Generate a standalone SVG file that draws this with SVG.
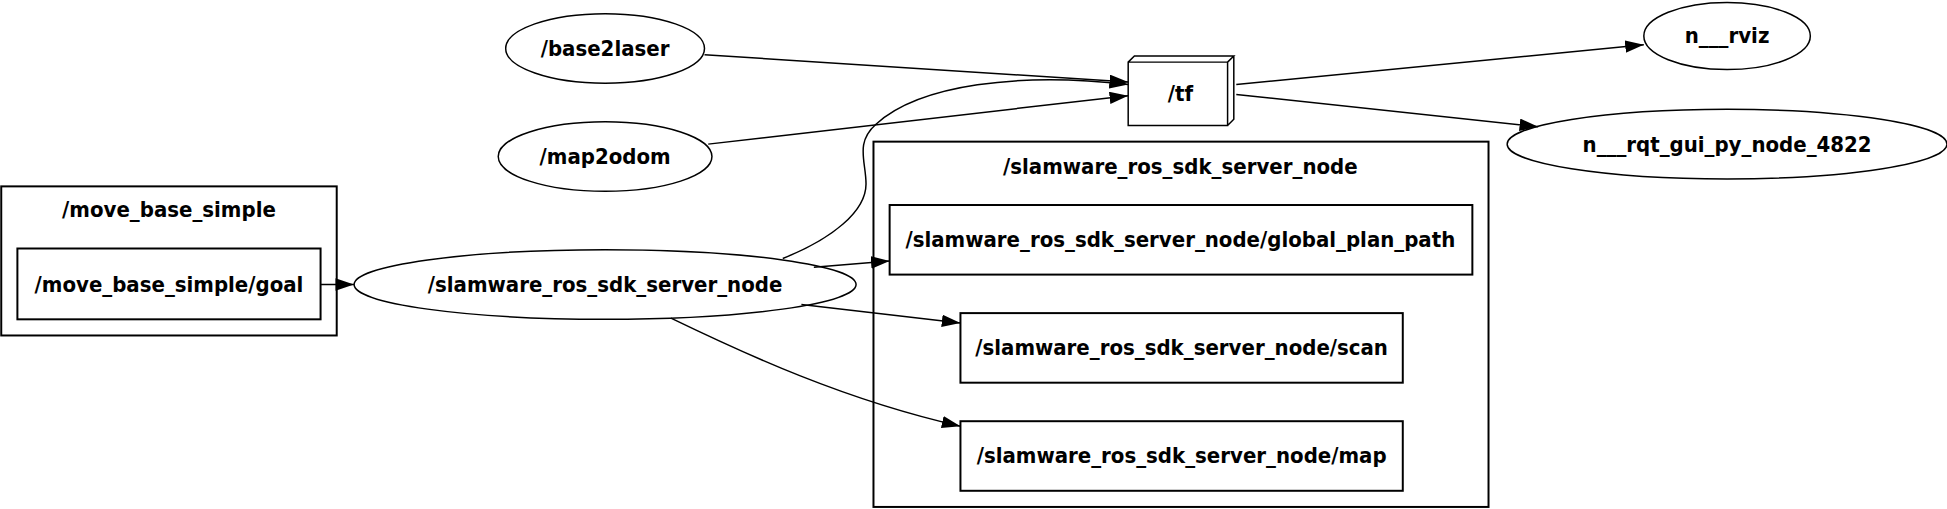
<svg xmlns="http://www.w3.org/2000/svg" width="1947" height="509" viewBox="0 0 1947 509">
<style>
text{font-family:"DejaVu Sans Condensed","DejaVu Sans",sans-serif;font-weight:bold;font-size:17.7px;text-anchor:middle;fill:#000}
.n{fill:none;stroke:#000;stroke-width:1.2}
.c{fill:none;stroke:#000;stroke-width:1.6}
.e{fill:none;stroke:#000;stroke-width:1.2}
</style>
<defs><marker id="a" markerWidth="15" markerHeight="10" refX="15" refY="5" orient="auto" markerUnits="userSpaceOnUse"><path d="M0,0L15,5L0,10z" fill="#000"/></marker></defs>
<rect width="1947" height="509" fill="#fff"/>
<g transform="scale(1.2425)">
<g id="edges">
<path class="e" marker-end="url(#a)" d="M258,229L285,229"/>
<path class="e" marker-end="url(#a)" d="M567,44L908,66"/>
<path class="e" marker-end="url(#a)" d="M570,116L908,77"/>
<path class="e" marker-end="url(#a)" d="M630,208C670,192 697,170 697,148C697,130 688,115 705,100C740,68 820,58 908,68"/>
<path class="e" marker-end="url(#a)" d="M655,215L716,210"/>
<path class="e" marker-end="url(#a)" d="M645,245L773,260"/>
<path class="e" marker-end="url(#a)" d="M540,256C600,285 680,322 773,343"/>
<path class="e" marker-end="url(#a)" d="M995,68L1323,36"/>
<path class="e" marker-end="url(#a)" d="M995,76L1238,102"/>
</g>
<g id="cluster_move_base_simple"><rect class="c" x="1" y="150" width="270" height="120"/><text x="136" y="175">/move_base_simple</text></g>
<g id="goal"><rect class="c" x="14" y="200" width="244" height="57"/><text x="136" y="235">/move_base_simple/goal</text></g>
<g id="cluster_slamware"><rect class="c" x="703" y="114" width="495" height="294"/><text x="950" y="140">/slamware_ros_sdk_server_node</text></g>
<g id="global_plan_path"><rect class="c" x="716" y="165" width="469" height="56"/><text x="950" y="199">/slamware_ros_sdk_server_node/global_plan_path</text></g>
<g id="scan"><rect class="c" x="773" y="252" width="356" height="56"/><text x="951" y="286">/slamware_ros_sdk_server_node/scan</text></g>
<g id="map"><rect class="c" x="773" y="339" width="356" height="56"/><text x="951" y="373">/slamware_ros_sdk_server_node/map</text></g>
<g id="slamware_node"><ellipse class="n" cx="487" cy="229" rx="202" ry="28"/><text x="487" y="235">/slamware_ros_sdk_server_node</text></g>
<g id="base2laser"><ellipse class="n" cx="487" cy="39" rx="80" ry="28"/><text x="487" y="45">/base2laser</text></g>
<g id="map2odom"><ellipse class="n" cx="487" cy="126" rx="86" ry="28"/><text x="487" y="132">/map2odom</text></g>
<g id="tf"><path class="n" d="M908,50H988V101H908ZM908,50L913,45H993L988,50M993,45V96L988,101"/><text x="950" y="81">/tf</text></g>
<g id="rviz"><ellipse class="n" cx="1390" cy="29" rx="67" ry="27"/><text x="1390" y="35">n___rviz</text></g>
<g id="rqt"><ellipse class="n" cx="1390" cy="116" rx="177" ry="28"/><text x="1390" y="122">n___rqt_gui_py_node_4822</text></g>
</g>
</svg>
